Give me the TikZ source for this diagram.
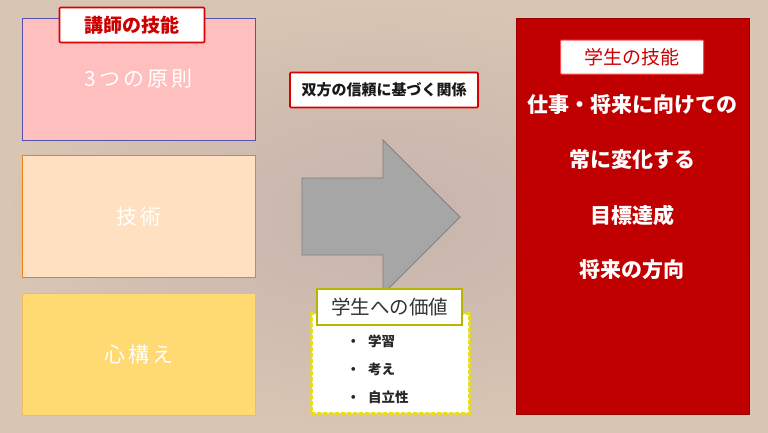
\documentclass[tikz,border=0pt]{standalone}
\usepackage{fontspec}
\setmainfont{Noto Sans CJK JP}
\usetikzlibrary{positioning}
\definecolor{bgout}{HTML}{D9C5B3}
\definecolor{bgin}{HTML}{C6B3AD}
\definecolor{pinkbox}{HTML}{FFBFBF}
\definecolor{peachbox}{HTML}{FFE0C0}
\definecolor{yellowbox}{HTML}{FFD971}
\definecolor{darkred}{HTML}{C00000}
\definecolor{olive}{HTML}{B8B400}
\begin{document}
\begin{tikzpicture}[x=1pt,y=-1pt,
  box/.style={draw, anchor=north west, minimum width=233pt, minimum height=122pt,
    text=white, font=\fontsize{21}{24}\selectfont\addfontfeature{LetterSpace=15}},
  tag/.style={draw=red!85!black, fill=white, line width=1.6pt, rounded corners=1pt,
    font=\fontsize{19}{22}\selectfont\bfseries, text=red!80!black,
    minimum width=145pt, minimum height=35pt},
  skill/.style={text=white, font=\fontsize{21}{24}\selectfont\bfseries},
  item/.style={anchor=west, font=\fontsize{13.5}{16}\selectfont\bfseries, text=black!85}]
  \useasboundingbox (0,0) rectangle (768,432);
  \shade[inner color=bgin, outer color=bgout] (0,0) rectangle (768,432);
  \node[box, fill=pinkbox, draw=blue!35!gray] (a) at (22,18) {3つの原則};
  \node[box, fill=peachbox, draw=orange!70!brown] (b) at (22,155) {技術};
  \node[box, fill=yellowbox, draw=yellowbox!70!brown] (c) at (22,293) {心構え};
  \node[tag] (t) at (132,25) {講師の技能};
  \node[tag, minimum width=188pt, minimum height=35pt, text=black!90,
    font=\fontsize{15}{18}\selectfont\bfseries] (rel) at (384,90) {双方の信頼に基づく関係};
  \draw[fill=black!35, draw=black!50, line width=0.8pt]
    (302,178) -- (383,178) -- (383,140) -- (460,217) -- (383,294) -- (383,255) -- (302,255) -- cycle;
  % value box
  \node[draw=yellow!90!black, fill=white, dashed, line width=3pt, line cap=round,
    anchor=north west, minimum width=158pt, minimum height=100pt] (v) at (310,312) {};
  \node[draw=olive, fill=white, line width=2pt, minimum width=145pt, minimum height=36pt,
    text=black!80, font=\fontsize{19.5}{22}\selectfont] (vt) at (389.5,307) {学生への価値};
  \node[item] (v1) at (343,341) {・\hspace{8pt}学習};
  \node[item] (v2) at (343,369) {・\hspace{8pt}考え};
  \node[item] (v3) at (343,397) {・\hspace{8pt}自立性};
  % student skills
  \node[fill=darkred, draw=darkred!80!black, anchor=north west,
    minimum width=233pt, minimum height=396pt] (r) at (516,18) {};
  \node[tag, draw=red!70, line width=1pt, minimum width=143pt, minimum height=34pt,
    font=\fontsize{19}{22}\selectfont] (rt) at (632,57) {学生の技能};
  \node[skill] (s1) at (632,105) {仕事・将来に向けての};
  \node[skill] (s2) at (632,160) {常に変化する};
  \node[skill] (s3) at (632,215) {目標達成};
  \node[skill] (s4) at (632,270) {将来の方向};
\end{tikzpicture}
\end{document}
